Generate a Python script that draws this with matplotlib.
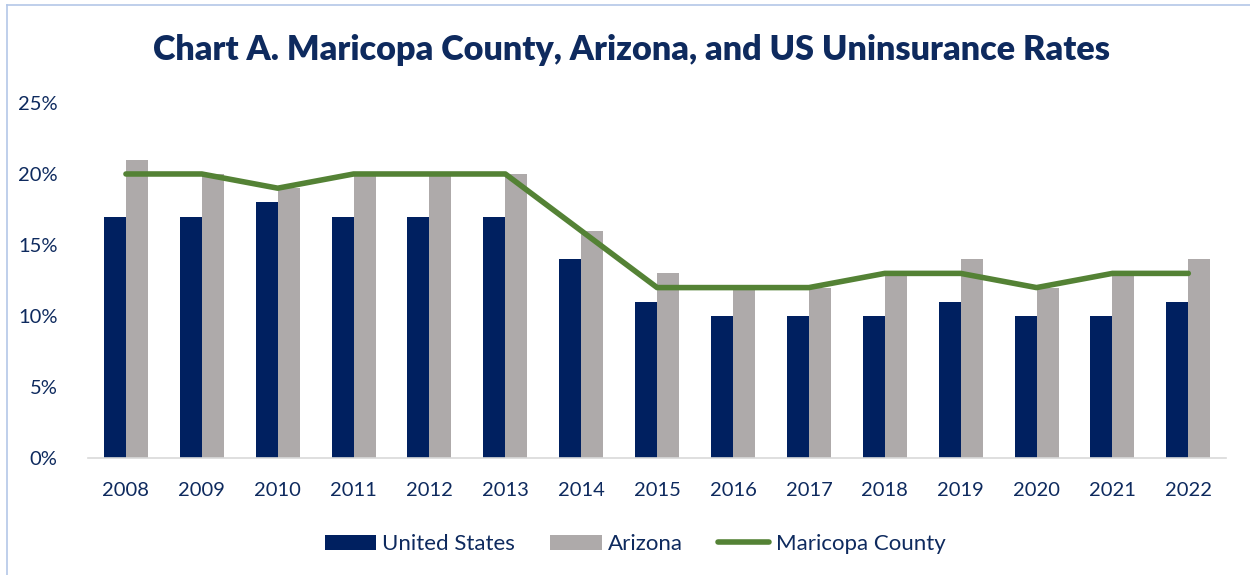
import matplotlib
matplotlib.use("Agg")
import matplotlib.pyplot as plt
import numpy as np
from matplotlib.lines import Line2D
from matplotlib.patches import Patch

years = ["2008", "2009", "2010", "2011", "2012", "2013", "2014", "2015",
         "2016", "2017", "2018", "2019", "2020", "2021", "2022"]
us = [17, 17, 18, 17, 17, 17, 14, 11, 10, 10, 10, 11, 10, 10, 11]
arizona = [21, 20, 19, 20, 20, 20, 16, 13, 12, 12, 13, 14, 12, 13, 14]
maricopa = [20, 20, 19, 20, 20, 20, 16, 12, 12, 12, 13, 13, 12, 13, 13]

NAVY = "#002060"
GRAY = "#AEAAAA"
GREEN = "#548235"
TEXT = "#0E2A5E"

plt.rcParams['font.family'] = ['Lato', 'DejaVu Sans']

fig = plt.figure(figsize=(12.5, 5.75), dpi=100)
ax = fig.add_axes([0.0704, 0.2035, 0.9106, 0.6174])

x = np.arange(len(years))
w = 0.29
ax.bar(x - w / 2, [v / 100 for v in us], width=w, color=NAVY, label="United States")
ax.bar(x + w / 2, [v / 100 for v in arizona], width=w, color=GRAY, label="Arizona")
ax.plot(x, [v / 100 for v in maricopa], color=GREEN, lw=4, solid_capstyle="round",
        solid_joinstyle="round", label="Maricopa County")

ax.set_xlim(-0.5, len(years) - 0.5)
ax.set_ylim(0, 0.25)
ax.set_yticks([0, 0.05, 0.10, 0.15, 0.20, 0.25])
ax.set_yticklabels(["0%", "5%", "10%", "15%", "20%", "25%"])
ax.set_xticks(x)
ax.set_xticklabels(years)
ax.tick_params(axis="both", length=0, labelsize=14.5, colors=TEXT)
ax.tick_params(axis="x", pad=17)
ax.tick_params(axis="y", pad=22)
for s in ["top", "right", "left"]:
    ax.spines[s].set_visible(False)
ax.spines["bottom"].set_color("#D9D9D9")
ax.spines["bottom"].set_linewidth(1.2)

fig.text(0.505, 0.913, "Chart A. Maricopa County, Arizona, and US Uninsurance Rates",
         ha="center", va="center", fontsize=24.6, fontweight="heavy", color=TEXT)

handles = [Patch(facecolor=NAVY), Patch(facecolor=GRAY),
           Line2D([0], [0], color=GREEN, lw=4, solid_capstyle="round")]
leg = fig.legend(handles, ["United States", "Arizona", "Maricopa County"],
                 loc="center", bbox_to_anchor=(0.508, 0.054), ncol=3, frameon=False,
                 fontsize=16, handlelength=2.3, handleheight=0.65, handletextpad=0.28,
                 columnspacing=1.6)
for t in leg.get_texts():
    t.set_color(TEXT)

border = "#B4C7E7"
fig.add_artist(Line2D([0.0056, 0.0056], [0, 0.991], color=border, lw=1.2, transform=fig.transFigure))
fig.add_artist(Line2D([0.0056, 1], [0.991, 0.991], color=border, lw=1.2, transform=fig.transFigure))

fig.savefig("out.png", dpi=100)
